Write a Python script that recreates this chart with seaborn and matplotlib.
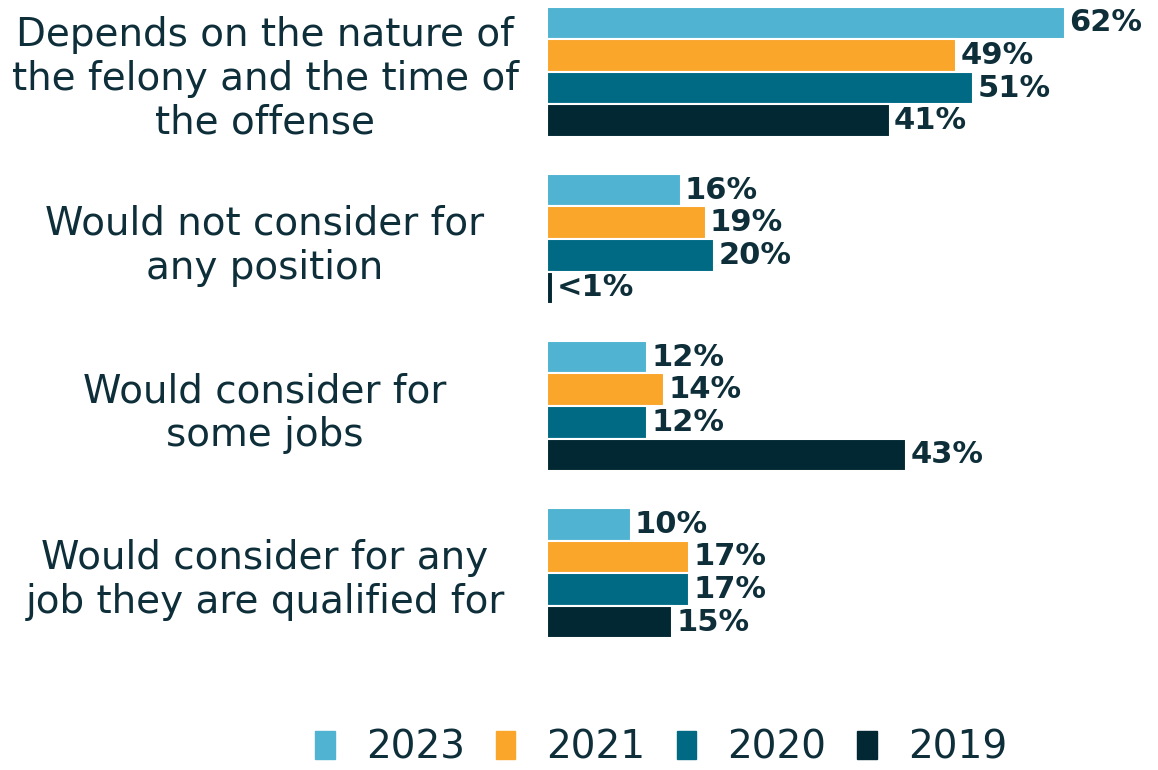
import pandas as pd
import seaborn as sns
import matplotlib.pyplot as plt

categories = ["Depends on the nature of\nthe felony and the time of\nthe offense",
              "Would not consider for\nany position",
              "Would consider for\nsome jobs",
              "Would consider for any\njob they are qualified for"]
years = ["2023", "2021", "2020", "2019"]
pct_2023 = [62, 16, 12, 10]
pct_2021 = [49, 19, 14, 17]
pct_2020 = [51, 20, 12, 17]
pct_2019 = [41, 0.7, 43, 15]  # "<1%" in the source
colors = ["#4fb3d1", "#f9a62a", "#006a85", "#022833"]

rows = []
for yr, vals in zip(years, [pct_2023, pct_2021, pct_2020, pct_2019]):
    for cat, v in zip(categories, vals):
        rows.append({"category": cat, "year": yr, "pct": v})
df = pd.DataFrame(rows)

sns.set_style("white")
plt.rcParams["font.family"] = ["DejaVu Sans"]
text_color = "#0e2f3a"

fig = plt.figure(figsize=(11.58, 7.7), dpi=100)
ax = fig.add_axes([547 / 1158, 1 - 650 / 770, 0.505, 645 / 770])

sns.barplot(data=df, x="pct", y="category", hue="year", hue_order=years,
            order=categories, palette=colors, saturation=1, orient="h",
            width=0.78, edgecolor="white", linewidth=1.5, ax=ax)
ax.get_legend().remove()

# value labels
for cont, vals in zip(ax.containers, [pct_2023, pct_2021, pct_2020, pct_2019]):
    labs = ["<1%" if v < 1 else f"{v}%" for v in vals]
    ax.bar_label(cont, labels=labs, padding=3, fontsize=22, fontweight="bold",
                 color=text_color)

ax.set_xlim(0, 70)
ax.set_ylim(3.46, -0.4)
ax.set_xlabel("")
ax.set_ylabel("")
ax.set_xticks([])
ax.tick_params(axis="y", length=0, pad=203)
for lab in ax.get_yticklabels():
    lab.set_ha("center")
    lab.set_multialignment("center")
    lab.set_fontsize(28)
    lab.set_color(text_color)
    lab.set_linespacing(1.2)
sns.despine(ax=ax, left=True, bottom=True)

handles = [plt.Rectangle((0, 0), 1, 1, color=c) for c in colors]
fig.legend(handles, years, loc="center", bbox_to_anchor=(0.571, 0.029), ncol=4,
           frameon=False, fontsize=28, handlelength=0.5, handleheight=0.75,
           columnspacing=0.8, handletextpad=0.8, labelcolor=text_color)

fig.savefig("out.png", dpi=100)
